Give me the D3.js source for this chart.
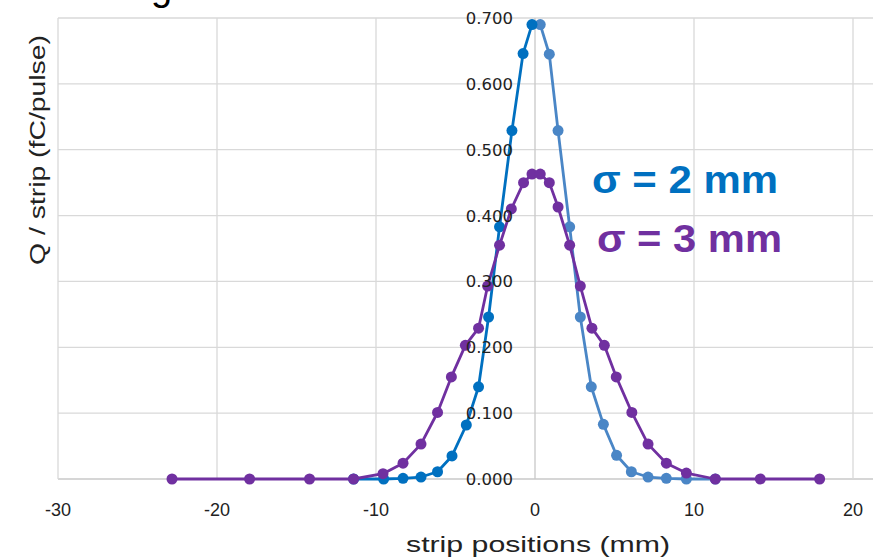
<!DOCTYPE html>
<html><head><meta charset="utf-8">
<script src="https://cdn.jsdelivr.net/npm/d3@7"></script>
<style>body{margin:0;background:#fff;}svg{display:block;}</style>
</head><body>
<script>
// ---- data ----
const xTicks = [-30, -20, -10, 0, 10, 20, 30];
const xTickLabels = ["-30", "-20", "-10", "0", "10", "20"];
const yTicks = [0, 0.1, 0.2, 0.3, 0.4, 0.5, 0.6, 0.7];
const yTickLabels = ["0.000","0.100","0.200","0.300","0.400","0.500","0.600","0.700"];
const blueLeftX = [-0.19,-0.75,-1.45,-2.23,-2.92,-3.55,-4.32,-5.22,-6.13,-7.17,-8.30,-9.52,-11.41];
const blueLeftY = [0.690,0.646,0.529,0.383,0.246,0.140,0.082,0.035,0.011,0.003,0.001,0.000,0.000];
const blueRightX = [0.33,0.90,1.45,2.18,2.85,3.54,4.30,5.13,6.06,7.11,8.26,9.52,11.34];
const blueRightY = [0.690,0.645,0.529,0.383,0.246,0.140,0.083,0.036,0.011,0.003,0.001,0.000,0.000];
const purpleX = [-22.83,-17.95,-14.18,-11.41,-9.56,-8.30,-7.17,-6.13,-5.26,-4.38,-3.55,-2.98,-2.23,-1.49,-0.72,-0.19,0.33,0.90,1.45,2.18,2.85,3.58,4.36,5.11,6.09,7.11,8.26,9.52,11.34,14.17,17.90];
const purpleY = [0,0,0,0.000,0.008,0.024,0.053,0.101,0.155,0.203,0.229,0.293,0.355,0.410,0.450,0.463,0.463,0.450,0.413,0.355,0.293,0.229,0.203,0.155,0.101,0.053,0.024,0.009,0.000,0,0];
const labels = ["σ = 2 mm", "σ = 3 mm"];

const W = 873, H = 557;
const svg = d3.select("body").append("svg").attr("width", W).attr("height", H);

const x = d3.scaleLinear().domain([-30, 30]).range([58, 58 + 60 * 15.9]);
const y = d3.scaleLinear().domain([0, 0.7]).range([479, 18]);

// cut-off title glyph at top
svg.append("text").attr("x", 151).attr("y", 0).attr("font-family", "Liberation Sans, Arial")
  .attr("font-size", 38).attr("fill", "#000").text("g");

// grid
const grid = svg.append("g");
grid.selectAll("line.h").data(yTicks).join("line")
  .attr("x1", x(-30)).attr("x2", x(30)).attr("y1", d => y(d)).attr("y2", d => y(d))
  .attr("stroke", d => d === 0 ? "#c8c8c8" : "#d9d9d9").attr("stroke-width", 1.3);
grid.selectAll("line.v").data(xTicks).join("line")
  .attr("x1", d => x(d)).attr("x2", d => x(d)).attr("y1", y(0.7)).attr("y2", y(0))
  .attr("stroke", d => d === 0 ? "#c8c8c8" : "#d9d9d9").attr("stroke-width", 1.3);

// x tick labels
svg.append("g").selectAll("text").data(xTickLabels).join("text")
  .attr("x", (d, i) => x(xTicks[i])).attr("y", 516).attr("text-anchor", "middle")
  .attr("font-family", "Liberation Sans, Arial").attr("font-size", 18).attr("fill", "#222")
  .text(d => d);

// series
const line = d3.line().x(d => x(d[0])).y(d => y(d[1]));
function series(xs, ys, color) {
  const pts = xs.map((v, i) => [v, ys[i]]);
  svg.append("path").datum(pts).attr("d", line).attr("fill", "none")
    .attr("stroke", color).attr("stroke-width", 2.8).attr("stroke-linejoin", "round");
  svg.append("g").selectAll("circle").data(pts).join("circle")
    .attr("cx", d => x(d[0])).attr("cy", d => y(d[1])).attr("r", 5.5).attr("fill", color);
}
series(blueRightX, blueRightY, "#4a86c6");
series(blueLeftX, blueLeftY, "#0070c0");
series(purpleX, purpleY, "#7030a0");

// y tick labels (drawn over lines, at x = 0 axis)
svg.append("g").selectAll("text").data(yTicks).join("text")
  .attr("x", 513).attr("y", d => y(d)).attr("dy", "0.36em").attr("text-anchor", "end")
  .attr("font-family", "DejaVu Sans").attr("font-size", 16.5).attr("fill", "#222")
  .text((d, i) => yTickLabels[i]);

// axis titles
svg.append("text").attr("x", 538).attr("y", 552).attr("text-anchor", "middle")
  .attr("font-family", "Liberation Sans, Arial").attr("font-size", 22).attr("fill", "#222")
  .attr("textLength", 264).attr("lengthAdjust", "spacingAndGlyphs")
  .text("strip positions (mm)");
svg.append("text").attr("transform", "translate(45,150) rotate(-90)").attr("text-anchor", "middle")
  .attr("font-family", "Liberation Sans, Arial").attr("font-size", 22).attr("fill", "#222")
  .attr("textLength", 230).attr("lengthAdjust", "spacingAndGlyphs")
  .text("Q / strip (fC/pulse)");

// annotations
svg.append("text").attr("x", 592).attr("y", 193).attr("font-family", "Liberation Sans, Arial")
  .attr("font-weight", "bold").attr("font-size", 39).attr("fill", "#0070c0")
  .attr("textLength", 186).attr("lengthAdjust", "spacingAndGlyphs").text(labels[0]);
svg.append("text").attr("x", 597).attr("y", 252).attr("font-family", "Liberation Sans, Arial")
  .attr("font-weight", "bold").attr("font-size", 39).attr("fill", "#7030a0")
  .attr("textLength", 185).attr("lengthAdjust", "spacingAndGlyphs").text(labels[1]);
</script>
</body></html>
